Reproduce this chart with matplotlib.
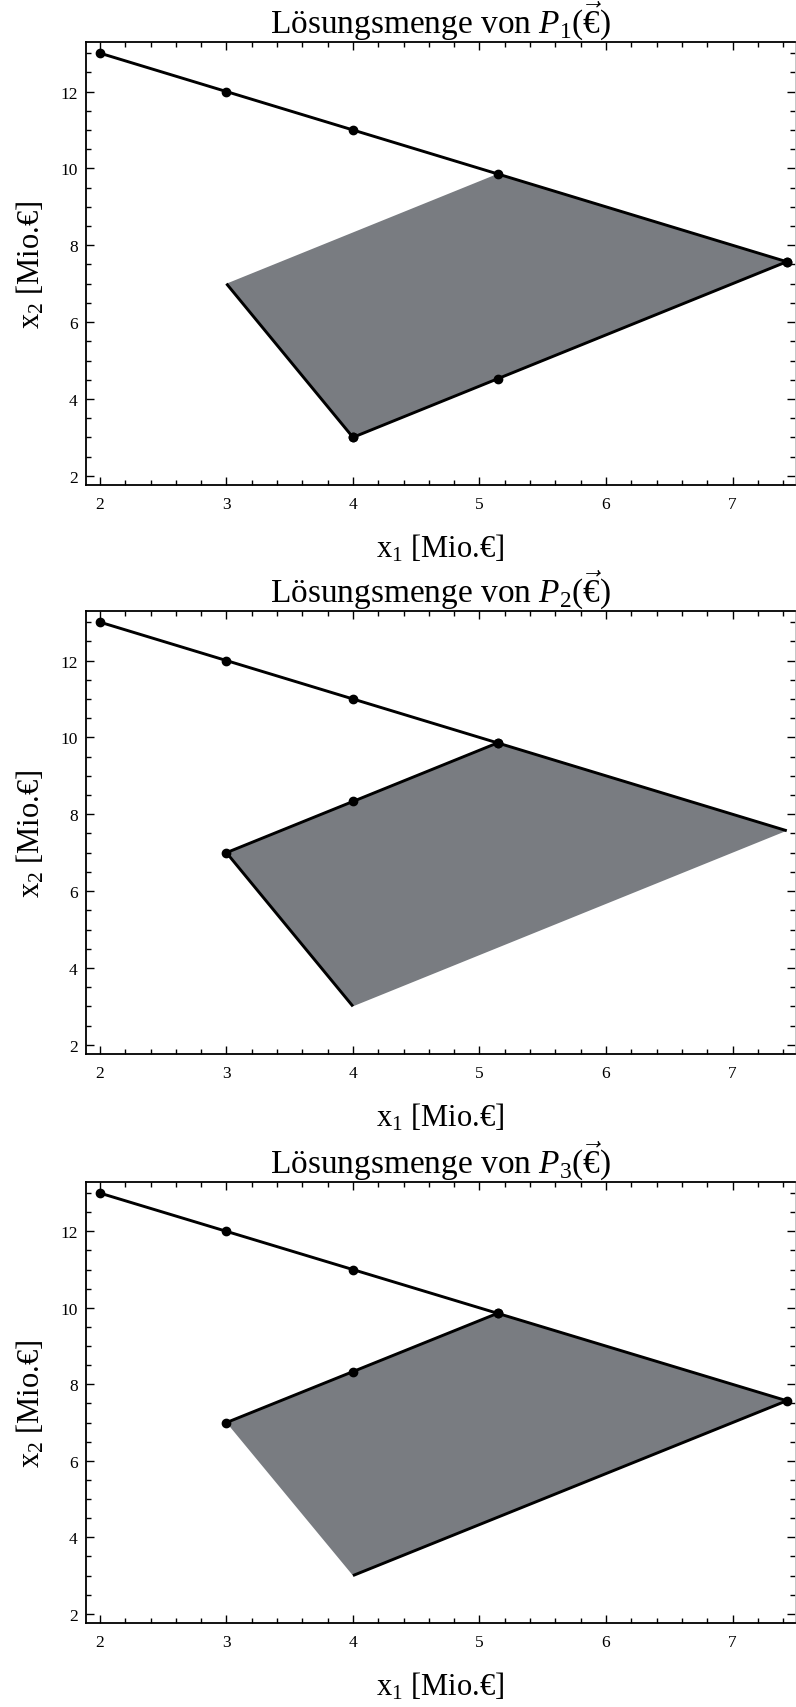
import matplotlib
matplotlib.use("Agg")
import matplotlib.pyplot as plt
from matplotlib.ticker import MultipleLocator

plt.rcParams['font.family'] = ['Liberation Serif', 'DejaVu Serif']
plt.rcParams['mathtext.fontset'] = 'custom'
plt.rcParams['mathtext.rm'] = 'Liberation Serif'
plt.rcParams['mathtext.it'] = 'Liberation Serif:italic'
plt.rcParams['mathtext.bf'] = 'Liberation Serif:bold'

# ---- data ----
upper_x = [2, 3, 4, 5.143, 7.429]
upper_y = [13, 12, 11, 9.857, 7.571]
region_x = [3, 5.143, 7.429, 4]
region_y = [7, 9.857, 7.571, 3]
mid_x = [3, 4, 5.143]
mid_y = [7, 8.333, 9.857]
low_x = [4, 5.143, 7.429]
low_y = [3, 4.524, 7.571]
left_x = [3, 4]
left_y = [7, 3]
panel_ids = ["1", "2", "3"]
x_label = "x$_1$ [Mio.€]"
y_label = "x$_2$ [Mio.€]"

FILL = "#797c81"
LW = 2.1
MS = 6

fig = plt.figure(figsize=(7.96, 17.08), dpi=100)
H = 1708.0
W = 796.0
panels = [(43, 486), (612, 1055), (1183, 1624)]
left, right = 86, 795

axes = []
for (top, bot) in panels:
    ax = fig.add_axes([left / W, 1 - bot / H, (right - left) / W, (bot - top) / H])
    axes.append(ax)

def line(ax, xs, ys, marks):
    ax.plot(xs, ys, color="black", lw=LW, solid_capstyle="butt", zorder=3)
    mx = [x for x, m in zip(xs, marks) if m]
    my = [y for y, m in zip(ys, marks) if m]
    ax.plot(mx, my, "o", color="black", ms=MS, zorder=4)

for i, ax in enumerate(axes):
    ax.fill(region_x, region_y, color=FILL, lw=0, zorder=2)
    if i == 0:
        line(ax, upper_x, upper_y, [1, 1, 1, 1, 1])
        line(ax, left_x, left_y, [0, 1])
        line(ax, low_x, low_y, [1, 1, 1])
    elif i == 1:
        line(ax, upper_x, upper_y, [1, 1, 1, 1, 0])
        line(ax, mid_x, mid_y, [1, 1, 1])
        line(ax, left_x, left_y, [0, 0])
    else:
        line(ax, upper_x, upper_y, [1, 1, 1, 1, 1])
        line(ax, mid_x, mid_y, [1, 1, 1])
        line(ax, [low_x[0], low_x[-1]], [low_y[0], low_y[-1]], [0, 0])

    ax.set_xlim(1.89, 7.494)
    ax.set_ylim(1.76, 13.29)
    ax.xaxis.set_major_locator(MultipleLocator(1))
    ax.xaxis.set_minor_locator(MultipleLocator(0.2))
    ax.yaxis.set_major_locator(MultipleLocator(2))
    ax.yaxis.set_minor_locator(MultipleLocator(0.5))
    ax.tick_params(which="both", direction="in", top=True, right=True,
                   color="black", labelsize=12.5)
    ax.tick_params(which="major", length=6, width=1.0)
    ax.tick_params(which="minor", length=3.5, width=1.0)
    ax.tick_params(axis="y", pad=6)
    ax.tick_params(axis="x", pad=8)
    for s in ["left", "bottom", "top"]:
        ax.spines[s].set_linewidth(1.3)
    ax.spines["right"].set_linewidth(0.6)
    ax.spines["right"].set_color("#bbbbbb")
    ax.set_title("Lösungsmenge von $P_{%s}(\\vec{\\mathrm{€}})$" % panel_ids[i],
                 fontsize=24, pad=5)
    ax.set_xlabel(x_label, fontsize=22, labelpad=14)
    ax.set_ylabel(y_label, fontsize=22, labelpad=10)

fig.savefig("out.png", dpi=100)
